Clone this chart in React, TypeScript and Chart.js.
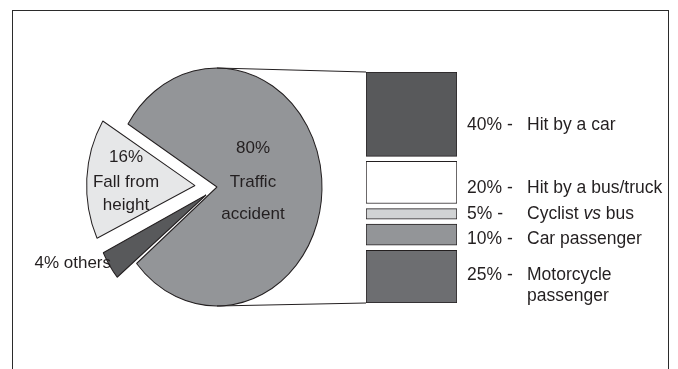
import React, { useEffect, useRef } from "react";
import { Chart, registerables } from "chart.js";

Chart.register(...registerables);

// ---- Pie data (order: clockwise from the upper-left edge of the main slice)
const pieLabels = ["Traffic accident", "others", "Fall from height"];
const pieValues = [80, 4, 16];
const pieColors = ["#939598", "#58595b", "#e6e7e8"];
const pieText = [["80%", "Traffic", "accident"], ["4% others"], ["16%", "Fall from", "height"]];

// ---- Breakdown bar data (top to bottom)
const barLabels = ["Hit by a car", "Hit by a bus/truck", "Cyclist vs bus", "Car passenger", "Motorcycle passenger"];
const barValues = [40, 20, 5, 10, 25];
const barColors = ["#58595b", "#ffffff", "#d1d3d4", "#939598", "#6d6e71"];
const barPercentText = ["40% -", "20% -", "5% -", "10% -", "25% -"];
const barNameLines = [["Hit by a car"], ["Hit by a bus/truck"], ["Cyclist *vs* bus"], ["Car passenger"], ["Motorcycle", "passenger"]];

// ---- layout / style constants
const PIE_OFFSETS = [0, 52, 88]; // Chart.js draws offset/4 px
const LABEL_NUDGE = [11, 6, 0, 4, 9];
const GAP = 2.4; // gap between bar segments, in value units
const PIE_RADIUS = 105;
const PIE_SY = 119 / 105; // vertical stretch of the pie (ellipse)
const FONT_FAMILY = '"Liberation Sans", Arial, Helvetica, sans-serif';
const TEXT_COLOR = "#231f20";
const EDGE = "#231f20";

export default function App() {
  const pieRef = useRef<HTMLCanvasElement | null>(null);
  const barRef = useRef<HTMLCanvasElement | null>(null);

  useEffect(() => {
    if (!pieRef.current || !barRef.current) return;

    const pieCenter = (chart: any) => {
      const a = chart.getDatasetMeta(0).data[0] as any;
      return { x: a.x, y: a.y, r: a.outerRadius };
    };

    const piePlugin = {
      id: "pieEllipse",
      beforeDatasetsDraw(chart: any) {
        const { x, y } = pieCenter(chart);
        const ctx = chart.ctx;
        ctx.save();
        ctx.translate(x, y);
        ctx.scale(1, PIE_SY);
        ctx.translate(-x, -y);
      },
      afterDatasetsDraw(chart: any) {
        const ctx = chart.ctx;
        ctx.restore();
        const { x, y } = pieCenter(chart);
        ctx.save();
        ctx.fillStyle = TEXT_COLOR;
        ctx.font = "17px " + FONT_FAMILY;
        ctx.textBaseline = "middle";
        ctx.textAlign = "center";
        const tdy = [-39, -5, 27];
        pieText[0].forEach((s, i) => ctx.fillText(s, x + 36, y + tdy[i]));
        const fdy = [-30, -5, 18];
        pieText[2].forEach((s, i) => ctx.fillText(s, x - 91, y + fdy[i]));
        ctx.textAlign = "right";
        ctx.fillText(pieText[1][0], x - 106, y + 76);
        ctx.restore();
      },
    };

    const pieChart = new Chart(pieRef.current, {
      type: "pie",
      data: {
        labels: pieLabels,
        datasets: [
          {
            data: pieValues,
            backgroundColor: pieColors,
            borderColor: EDGE,
            borderWidth: 1,
            offset: PIE_OFFSETS,
            radius: PIE_RADIUS,
          } as any,
        ],
      },
      options: {
        animation: false,
        responsive: true,
        maintainAspectRatio: false,
        rotation: -58,
        events: [],
        layout: { padding: { left: 0, right: 244, top: 5, bottom: 0 } },
        plugins: { legend: { display: false }, tooltip: { enabled: false } },
      } as any,
      plugins: [piePlugin],
    });

    // floating ranges for the stacked breakdown, built from the values
    const ranges: [number, number][] = [];
    let s = 0;
    barValues.forEach((v) => {
      ranges.push([s, s + v]);
      s += v + GAP;
    });
    const total = s - GAP;

    const FS = 17.5;
    const drawRich = (ctx: CanvasRenderingContext2D, text: string, x: number, y: number) => {
      const parts = text.split("*");
      let cx = x;
      parts.forEach((p, i) => {
        ctx.font = (i % 2 === 1 ? "italic " : "") + FS + "px " + FONT_FAMILY;
        ctx.fillText(p, cx, y);
        cx += ctx.measureText(p).width;
      });
    };

    const barPlugin = {
      id: "barExtras",
      beforeDatasetsDraw(chart: any) {
        const ctx = chart.ctx;
        const pc = pieCenter(pieChart);
        const first = chart.getDatasetMeta(0).data[0] as any;
        const last = chart.getDatasetMeta(barValues.length - 1).data[0] as any;
        const left = first.x - first.width / 2;
        const topY = Math.min(first.y, first.base);
        const botY = Math.max(last.y, last.base);
        ctx.save();
        ctx.strokeStyle = EDGE;
        ctx.lineWidth = 1;
        ctx.beginPath();
        ctx.moveTo(pc.x, pc.y - pc.r * PIE_SY);
        ctx.lineTo(left, topY);
        ctx.moveTo(pc.x, pc.y + pc.r * PIE_SY);
        ctx.lineTo(left, botY);
        ctx.stroke();
        ctx.restore();
      },
      afterDatasetsDraw(chart: any) {
        const ctx = chart.ctx;
        ctx.save();
        ctx.fillStyle = TEXT_COLOR;
        ctx.textBaseline = "middle";
        ctx.textAlign = "left";
        barValues.forEach((_, i) => {
          const el = chart.getDatasetMeta(i).data[0] as any;
          const right = el.x + el.width / 2;
          const cy = (el.y + el.base) / 2 + LABEL_NUDGE[i];
          const lines = barNameLines[i];
          const lh = 21;
          const y0 = cy - ((lines.length - 1) * lh) / 2;
          ctx.font = FS + "px " + FONT_FAMILY;
          ctx.fillText(barPercentText[i], right + 10, y0);
          lines.forEach((ln, k) => drawRich(ctx, ln, right + 70, y0 + k * lh));
        });
        ctx.restore();
      },
    };

    const barChart = new Chart(barRef.current, {
      type: "bar",
      data: {
        labels: [""],
        datasets: barValues.map((_, i) => ({
          label: barLabels[i],
          data: [ranges[i]] as any,
          backgroundColor: barColors[i],
          borderColor: EDGE,
          borderWidth: 1,
          borderSkipped: false,
          barPercentage: 1,
          categoryPercentage: 1,
        })),
      },
      options: {
        animation: false,
        responsive: true,
        maintainAspectRatio: false,
        events: [],
        layout: { padding: { left: 366, right: 221, top: 72, bottom: 66 } },
        scales: {
          x: { stacked: true, display: false },
          y: { min: 0, max: total, reverse: true, display: false },
        },
        plugins: { legend: { display: false }, tooltip: { enabled: false } },
      } as any,
      plugins: [barPlugin],
    });

    return () => {
      barChart.destroy();
      pieChart.destroy();
    };
  }, []);

  return (
    <div
      style={{
        position: "fixed",
        left: 0,
        top: 0,
        width: 678,
        height: 369,
        background: "#ffffff",
        overflow: "hidden",
      }}
    >
      <div
        style={{
          position: "absolute",
          left: 12,
          top: 10,
          width: 657,
          height: 400,
          border: "1.5px solid #2b2b2b",
          boxSizing: "border-box",
        }}
      />
      <div style={{ position: "absolute", left: 0, top: 0, width: 678, height: 369 }}>
        <canvas ref={pieRef} />
      </div>
      <div style={{ position: "absolute", left: 0, top: 0, width: 678, height: 369 }}>
        <canvas ref={barRef} />
      </div>
    </div>
  );
}
